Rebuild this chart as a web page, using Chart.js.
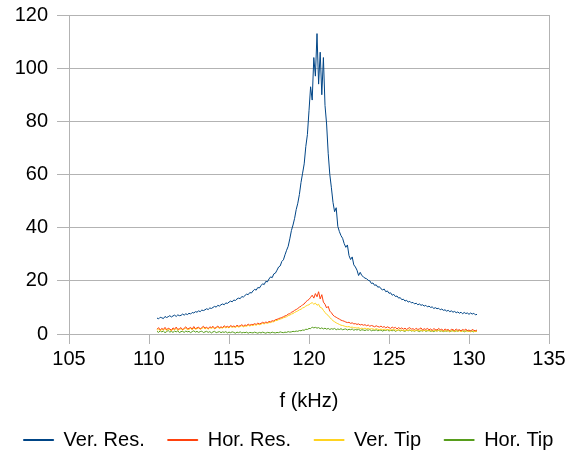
<!DOCTYPE html>
<html>
<head>
<meta charset="utf-8">
<script src="https://cdn.jsdelivr.net/npm/chart.js@4.4.1/dist/chart.umd.min.js"></script>
<style>
html,body{margin:0;padding:0;background:#fff;}
canvas{display:block;}
</style>
</head>
<body>
<canvas id="c" width="577" height="453"></canvas>
<script>
const seriesNames = ["Ver. Res.", "Hor. Res.", "Ver. Tip", "Hor. Tip"];
const xTicks = [105, 110, 115, 120, 125, 130, 135];
const yTicks = [0, 20, 40, 60, 80, 100, 120];

const freq = [
110.5,110.6,110.7,110.8,110.9,111.0,111.1,111.2,111.3,111.4,
111.5,111.6,111.7,111.8,111.9,112.0,112.1,112.2,112.3,112.4,
112.5,112.6,112.7,112.8,112.9,113.0,113.1,113.2,113.3,113.4,
113.5,113.6,113.7,113.8,113.9,114.0,114.1,114.2,114.3,114.4,
114.5,114.6,114.7,114.8,114.9,115.0,115.1,115.2,115.3,115.4,
115.5,115.6,115.7,115.8,115.9,116.0,116.1,116.2,116.3,116.4,
116.5,116.6,116.7,116.8,116.9,117.0,117.1,117.2,117.3,117.4,
117.5,117.6,117.7,117.8,117.9,118.0,118.1,118.2,118.3,118.4,
118.5,118.6,118.7,118.8,118.9,119.0,119.1,119.2,119.3,119.4,
119.5,119.6,119.7,119.8,119.9,120.0,120.1,120.2,120.3,120.4,
120.5,120.6,120.7,120.8,120.9,121.0,121.1,121.2,121.3,121.4,
121.5,121.6,121.7,121.8,121.9,122.0,122.1,122.2,122.3,122.4,
122.5,122.6,122.7,122.8,122.9,123.0,123.1,123.2,123.3,123.4,
123.5,123.6,123.7,123.8,123.9,124.0,124.1,124.2,124.3,124.4,
124.5,124.6,124.7,124.8,124.9,125.0,125.1,125.2,125.3,125.4,
125.5,125.6,125.7,125.8,125.9,126.0,126.1,126.2,126.3,126.4,
126.5,126.6,126.7,126.8,126.9,127.0,127.1,127.2,127.3,127.4,
127.5,127.6,127.7,127.8,127.9,128.0,128.1,128.2,128.3,128.4,
128.5,128.6,128.7,128.8,128.9,129.0,129.1,129.2,129.3,129.4,
129.5,129.6,129.7,129.8,129.9,130.0,130.1,130.2,130.3,130.4,
130.5];

const verRes = [
6.0,5.7,6.3,6.1,5.8,6.6,6.2,6.5,6.9,6.4,
6.8,7.1,6.6,7.2,6.9,7.0,7.5,7.1,7.6,7.3,
7.8,7.5,8.1,7.9,8.4,8.2,8.7,8.4,9.0,8.8,
9.1,9.5,9.2,9.8,9.6,10.0,10.4,10.1,10.8,10.5,
11.0,11.3,11.0,11.7,11.5,12.0,12.4,12.1,12.8,12.6,
13.2,13.5,13.3,14.1,13.9,14.5,15.0,14.8,15.6,15.4,
16.2,16.8,16.5,17.5,17.3,18.2,18.9,18.6,19.8,19.6,
20.7,21.5,21.2,22.6,22.9,24.0,25.2,25.6,27.3,27.9,
29.8,31.5,33.0,35.8,38.9,41.0,43.5,46.8,49.2,52.5,
57.0,60.5,64.0,70.5,75.0,84.0,93.0,88.0,104.0,97.0,
113.0,94.0,106.0,90.0,104.0,86.0,79.0,68.0,60.0,55.0,
49.5,46.0,47.5,40.5,38.5,37.0,36.0,34.0,32.6,33.5,
29.5,28.0,29.0,26.0,25.2,24.0,22.0,23.2,22.0,21.5,
21.0,20.8,20.2,20.0,19.0,19.2,18.3,18.5,17.6,17.8,
17.0,16.6,16.9,15.9,16.2,15.3,15.5,14.6,14.9,14.1,
14.3,13.5,13.7,12.9,13.1,12.4,12.7,12.0,12.3,11.7,
11.9,11.3,11.6,11.0,11.3,10.8,11.0,10.5,10.8,10.2,
10.5,10.0,10.2,9.6,9.9,9.5,9.7,9.1,9.4,8.9,
9.1,8.6,8.9,8.4,8.7,8.2,8.5,8.0,8.3,7.8,
8.2,7.6,8.1,7.7,7.9,7.4,7.9,7.5,7.8,7.2,
7.4];

const horRes = [
1.8,2.4,1.5,2.1,1.7,2.5,1.6,2.2,1.9,1.4,
2.3,1.8,2.6,1.7,2.0,2.4,1.6,2.2,2.7,1.9,
2.1,2.5,1.8,2.8,2.0,2.3,2.6,1.9,2.4,2.9,
2.2,2.6,2.0,2.7,2.4,2.9,2.1,2.5,3.0,2.3,
2.7,2.4,3.1,2.6,2.9,2.5,3.2,2.8,3.0,2.7,
3.3,2.9,3.1,3.5,3.0,3.4,3.2,3.7,3.3,3.6,
3.5,3.9,3.6,4.1,3.8,4.0,4.4,4.1,4.5,4.3,
4.7,4.6,5.0,4.9,5.4,5.5,5.8,6.0,6.2,6.5,
6.8,7.0,7.5,7.6,8.2,8.4,8.9,9.2,9.6,10.1,
10.4,11.0,11.3,12.1,12.6,13.0,13.8,14.6,13.5,15.2,
14.0,15.9,13.2,14.8,12.0,11.2,9.8,10.4,8.6,8.0,
7.1,6.6,6.3,5.9,5.6,5.2,5.0,4.8,4.5,4.3,
4.4,4.0,4.2,3.8,3.9,3.6,3.8,3.4,3.6,3.3,
3.5,3.1,3.4,2.9,3.2,3.0,2.7,3.1,2.8,2.6,
3.0,2.5,2.8,2.3,2.7,2.4,2.1,2.6,2.2,2.5,
1.9,2.4,2.0,2.3,1.8,2.2,1.7,2.1,2.4,1.8,
2.0,1.6,2.2,1.7,1.9,2.3,1.5,2.0,1.7,2.1,
1.6,1.9,1.4,2.0,1.7,1.5,2.1,1.6,1.8,1.3,
1.9,1.5,1.7,1.2,1.8,1.6,1.3,1.9,1.4,1.6,
1.2,1.7,1.4,1.8,1.3,1.5,1.1,1.7,1.4,1.2,
1.5];

const verTip = [
1.4,1.9,1.2,1.7,1.5,2.0,1.3,1.8,1.6,1.2,
1.9,1.5,2.1,1.4,1.7,2.0,1.5,1.9,2.2,1.6,
1.8,2.1,1.6,2.3,1.8,2.0,2.3,1.7,2.1,2.4,
1.9,2.3,1.8,2.4,2.1,2.5,1.9,2.3,2.6,2.1,
2.4,2.2,2.7,2.3,2.6,2.3,2.8,2.5,2.7,2.5,
2.9,2.6,2.8,3.1,2.7,3.0,2.9,3.3,3.0,3.3,
3.2,3.5,3.3,3.7,3.5,3.7,4.0,3.8,4.2,4.0,
4.3,4.3,4.6,4.6,5.0,5.1,5.4,5.6,5.8,6.1,
6.3,6.5,6.9,7.1,7.5,7.7,8.1,8.4,8.7,9.1,
9.3,9.8,10.0,10.5,10.8,11.0,11.5,11.8,11.2,11.6,
10.8,11.2,10.0,9.8,8.9,8.1,7.4,7.0,6.2,5.6,
5.0,4.6,4.2,3.9,3.6,3.3,3.2,3.0,2.8,2.7,
2.8,2.5,2.6,2.3,2.4,2.2,2.4,2.0,2.2,2.0,
2.2,1.9,2.1,1.8,2.0,1.9,1.7,2.0,1.8,1.6,
1.9,1.6,1.8,1.5,1.7,1.6,1.4,1.7,1.5,1.6,
1.3,1.6,1.4,1.5,1.2,1.5,1.3,1.4,1.6,1.2,
1.4,1.1,1.5,1.2,1.3,1.5,1.1,1.4,1.2,1.4,
1.1,1.3,1.0,1.4,1.2,1.1,1.4,1.1,1.3,1.0,
1.3,1.1,1.2,0.9,1.3,1.1,1.0,1.3,1.0,1.2,
0.9,1.2,1.0,1.3,0.9,1.1,0.8,1.2,1.0,0.9,
1.1];

const horTip = [
1.0,0.6,1.2,0.8,1.1,0.5,0.9,1.3,0.7,1.0,
0.6,1.1,0.8,1.2,0.5,0.9,1.0,0.6,1.1,0.8,
1.0,0.5,0.9,1.2,0.7,1.0,0.6,0.9,1.1,0.5,
0.8,1.0,0.6,0.9,0.4,0.8,1.0,0.5,0.7,0.9,
0.5,0.8,0.6,0.9,0.4,0.7,0.5,0.8,0.6,0.3,
0.7,0.5,0.8,0.4,0.6,0.5,0.7,0.3,0.6,0.5,
0.4,0.7,0.5,0.3,0.6,0.4,0.7,0.5,0.3,0.6,
0.5,0.4,0.7,0.5,0.4,0.6,0.5,0.8,0.6,0.5,
0.7,0.6,0.9,0.7,0.8,1.0,0.9,1.1,1.0,1.3,
1.2,1.5,1.4,1.8,1.7,2.1,2.0,2.6,2.3,2.5,
2.2,2.4,2.0,2.3,1.9,2.2,1.8,2.1,1.7,2.0,
1.8,2.1,1.6,1.9,1.7,2.0,1.6,1.8,1.9,1.5,
1.8,1.6,1.9,1.4,1.7,1.5,1.8,1.3,1.6,1.5,
1.3,1.6,1.4,1.7,1.2,1.5,1.3,1.6,1.2,1.4,
1.5,1.1,1.4,1.3,1.6,1.1,1.4,1.2,1.5,1.0,
1.3,1.5,1.1,1.4,1.2,1.0,1.4,1.2,1.5,1.1,
1.3,1.0,1.4,1.2,0.9,1.3,1.1,1.4,1.0,1.2,
1.4,1.0,1.2,0.9,1.3,1.1,1.4,1.0,1.2,0.9,
1.2,1.0,1.3,0.8,1.1,1.3,0.9,1.2,1.0,1.4,
1.0,1.2,0.8,1.1,1.3,0.9,1.2,1.0,0.8,1.1,
1.0];

const colors = ["#004586", "#ff420e", "#ffd320", "#579d1c"];
const seriesValues = [verRes, horRes, verTip, horTip];

const FONT = "'Liberation Sans', Arial, sans-serif";
const FS = 20;
const GRID = "#b3b3b3";

const datasets = seriesValues.map((vals, i) => ({
  label: seriesNames[i],
  data: freq.map((f, j) => ({x: f, y: vals[j]})),
  borderColor: colors[i],
  backgroundColor: colors[i],
  borderWidth: 1,
  pointRadius: 0,
  tension: 0,
  fill: false
}));

const shiftLegend = {
  id: 'shiftLegend',
  afterLayout(chart) {
    const lg = chart.legend;
    if (lg) { lg.top += 7; lg.bottom += 7; }
  }
};

new Chart(document.getElementById('c'), {
  type: 'line',
  data: { datasets },
  plugins: [shiftLegend],
  options: {
    responsive: false,
    animation: false,
    devicePixelRatio: 1,
    layout: { padding: { left: 0, right: 0, top: 15, bottom: 0 } },
    plugins: {
      tooltip: { enabled: false },
      legend: {
        position: 'bottom',
        labels: {
          font: { family: FONT, size: FS },
          color: '#000',
          boxWidth: 30,
          boxHeight: 1,
          padding: 23
        }
      }
    },
    scales: {
      x: {
        type: 'linear',
        min: 105, max: 135,
        afterBuildTicks: (s) => { s.ticks = xTicks.map(v => ({value: v})); },
        ticks: { font: { family: FONT, size: FS }, color: '#000', padding: 3, maxRotation: 0 },
        grid: {
          drawOnChartArea: true,
          color: (ctx) => (ctx.tick && (ctx.tick.value === 105 || ctx.tick.value === 135)) ? GRID : 'rgba(0,0,0,0)',
          tickColor: GRID,
          tickLength: 10,
          lineWidth: 1
        },
        border: { color: GRID },
        title: { display: true, text: 'f (kHz)', font: { family: FONT, size: FS }, color: '#000', padding: { top: 0, bottom: -13 } },
        afterFit: (s) => { s.height = 66; }
      },
      y: {
        type: 'linear',
        min: 0, max: 120,
        afterBuildTicks: (s) => { s.ticks = yTicks.map(v => ({value: v})); },
        ticks: { font: { family: FONT, size: FS }, color: '#000', padding: 9 },
        grid: { color: GRID, tickColor: GRID, tickLength: 12, lineWidth: 1 },
        border: { color: GRID },
        afterFit: (s) => { s.width = 69; s.paddingTop = 2; s.paddingBottom = 2; }
      },
      yR: {
        type: 'linear',
        position: 'right',
        display: true,
        min: 0, max: 120,
        ticks: { display: false },
        grid: { display: false },
        border: { display: false },
        afterFit: (s) => { s.width = 28; s.paddingTop = 0; s.paddingBottom = 0; }
      }
    }
  }
});
</script>
</body>
</html>
